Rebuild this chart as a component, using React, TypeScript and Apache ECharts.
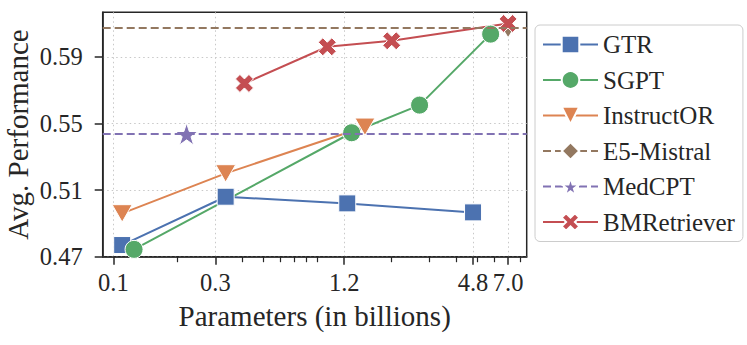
import React, { useEffect, useRef } from "react";
import * as echarts from "echarts";

const xMajorTicks = [0.1, 0.3, 1.2, 4.8, 7.0];
const xMinorTicks = [0.2, 0.4, 0.5, 0.6, 0.7, 0.8, 0.9, 2, 3, 4, 5, 6, 8];
const yTicks = [0.47, 0.51, 0.55, 0.59];

const gtrParams = [0.11, 0.335, 1.24, 4.8];
const gtrPerf = [0.477, 0.506, 0.502, 0.4966];
const sgptParams = [0.125, 1.3, 2.7, 5.8];
const sgptPerf = [0.4744, 0.5444, 0.561, 0.6036];
const instructorParams = [0.11, 0.335, 1.5];
const instructorPerf = [0.496, 0.52, 0.548];
const e5Params = [7.0];
const e5Perf = [0.6077];
const medcptParams = [0.22];
const medcptPerf = [0.5436];
const bmParams = [0.41, 1.0, 2.0, 7.0];
const bmPerf = [0.574, 0.596, 0.5996, 0.61];

const FONT = "'Liberation Serif', 'Times New Roman', serif";
const TXT = "#262626";

function starPath() {
  const pts: string[] = [];
  for (let i = 0; i < 10; i++) {
    const r = i % 2 === 0 ? 1 : 0.382;
    const a = (-90 + i * 36) * Math.PI / 180;
    pts.push(`${(r * Math.cos(a)).toFixed(3)},${(r * Math.sin(a)).toFixed(3)}`);
  }
  return "path://M" + pts.join(" L") + " Z";
}
const X_PATH = "path://M0.25,0 L0.5,0.25 L0.75,0 L1,0.25 L0.75,0.5 L1,0.75 L0.75,1 L0.5,0.75 L0.25,1 L0,0.75 L0.25,0.5 L0,0.25 Z";
const TRI_DOWN = "path://M0,0 L1,0 L0.5,0.87 Z";

function makeSeries(name: string, xs: number[], ys: number[], color: string, symbol: string, size: any, dashed = false, extra: any = {}) {
  return {
    name,
    type: "line",
    data: xs.map((x, i) => [x, ys[i]]),
    symbol,
    symbolSize: size,
    symbolKeepAspect: true,
    showAllSymbol: true,
    lineStyle: { color, width: 2, type: dashed ? [8, 4] : "solid" },
    itemStyle: { color, borderColor: "#ffffff", borderWidth: 1 },
    emphasis: { disabled: true },
    ...extra,
  };
}

function hLine(value: number, color: string) {
  return {
    silent: true,
    symbol: "none",
    precision: 6,
    label: { show: false },
    lineStyle: { color, width: 2, type: [8, 4] },
    emphasis: { disabled: true },
    data: [{ yAxis: value }],
  };
}

export default function App() {
  const ref = useRef<HTMLDivElement>(null);
  useEffect(() => {
    if (!ref.current) return;
    const chart = echarts.init(ref.current, null, { renderer: "svg" });
    const colors = {
      blue: "#4C72B0",
      orange: "#DD8452",
      green: "#55A868",
      red: "#C44E52",
      purple: "#8172B3",
      brown: "#937860",
    };
    const xMin = 0.0892;
    const xMax = 8.55;
    chart.setOption({
      animation: false,
      textStyle: { fontFamily: FONT },
      grid: {
        left: 102.7,
        right: 220.3,
        top: 12.3,
        bottom: 88.3,
        containLabel: false,
        outerBoundsMode: "none",
        show: true,
        borderColor: TXT,
        borderWidth: 1.5,
        backgroundColor: "transparent",
      },
      legend: {
        orient: "vertical",
        left: 535,
        top: 25,
        itemWidth: 55,
        itemHeight: 22,
        itemGap: 10.5,
        padding: [7, 8, 7, 7],
        borderColor: "#cccccc",
        borderWidth: 1,
        borderRadius: 5,
        backgroundColor: "#ffffff",
        textStyle: { fontSize: 25, fontFamily: FONT, color: TXT },
        data: ["GTR", "SGPT", "InstructOR", "E5-Mistral", "MedCPT", "BMRetriever"],
      },
      xAxis: [
        {
          type: "log",
          logBase: 10,
          min: xMin,
          max: xMax,
          name: "Parameters (in billions)",
          nameLocation: "middle",
          nameGap: 45,
          nameMoveOverlap: false,
          nameTextStyle: { fontSize: 29, fontFamily: FONT, color: TXT },
          axisLine: { show: true, lineStyle: { color: TXT, width: 1.5 } },
          axisTick: { show: true, customValues: xMajorTicks, length: 8, lineStyle: { color: TXT, width: 1.5 } },
          axisLabel: {
            customValues: xMajorTicks,
            formatter: (v: number) => v.toFixed(1),
            fontSize: 24.5,
            fontFamily: FONT,
            color: TXT,
            margin: 13,
          },
          splitLine: { show: true, lineStyle: { color: "#c8c8c8", width: 1, type: [1.5, 3] } },
          minorTick: { show: false },
        },
        {
          type: "log",
          logBase: 10,
          min: xMin,
          max: xMax,
          position: "bottom",
          offset: 0,
          gridIndex: 0,
          axisLine: { show: true, lineStyle: { color: "rgba(0,0,0,0)" } },
          axisTick: { show: true, customValues: xMinorTicks, length: 5.5, lineStyle: { color: TXT, width: 1.2 } },
          axisLabel: { show: false },
          splitLine: { show: false },
        },
      ],
      yAxis: {
        type: "value",
        min: 0.47,
        max: 0.6167,
        name: "Avg. Performance",
        nameLocation: "middle",
        nameGap: 70,
        nameMoveOverlap: false,
        nameTextStyle: { fontSize: 29, fontFamily: FONT, color: TXT },
        axisLine: { show: true, lineStyle: { color: TXT, width: 1.5 } },
        axisTick: { show: true, customValues: yTicks, length: 8, lineStyle: { color: TXT, width: 1.5 } },
        axisLabel: {
          customValues: yTicks,
          formatter: (v: number) => v.toFixed(2),
          fontSize: 24.5,
          fontFamily: FONT,
          color: TXT,
          margin: 20,
        },
        splitLine: { show: true, lineStyle: { color: "#c8c8c8", width: 1, type: [1.5, 3] } },
      },
      series: [
        makeSeries("E5-Mistral", e5Params, e5Perf, colors.brown, "diamond", [13, 21], true, { markLine: hLine(e5Perf[0], colors.brown), z: 1 }),
        makeSeries("MedCPT", medcptParams, medcptPerf, colors.purple, starPath(), 23, true, { markLine: hLine(medcptPerf[0], colors.purple), z: 1 }),
        makeSeries("GTR", gtrParams, gtrPerf, colors.blue, "rect", 17),
        makeSeries("SGPT", sgptParams, sgptPerf, colors.green, "circle", 18),
        makeSeries("InstructOR", instructorParams, instructorPerf, colors.orange, TRI_DOWN, 20),
        makeSeries("BMRetriever", bmParams, bmPerf, colors.red, X_PATH, 18, false, { z: 3 }),
        { type: "line", xAxisIndex: 1, data: [], silent: true },
      ],
    });
    return () => chart.dispose();
  }, []);
  return <div ref={ref} style={{ width: 747, height: 345, position: "absolute", left: 0, top: 0 }} />;
}
